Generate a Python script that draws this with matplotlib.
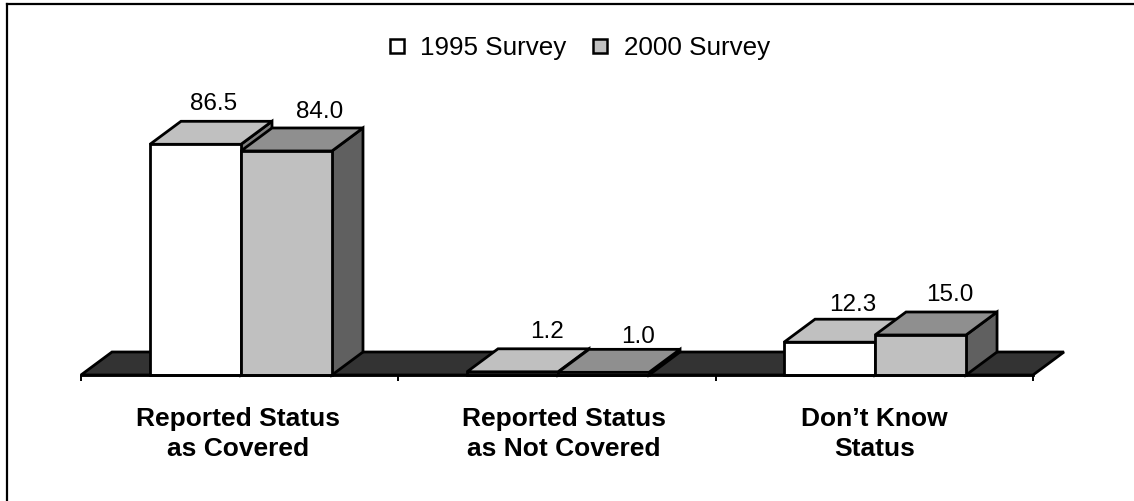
import matplotlib
matplotlib.use("Agg")
import matplotlib.pyplot as plt
from matplotlib.lines import Line2D
from matplotlib.patches import Polygon

plt.rcParams["font.family"] = ["Liberation Sans", "DejaVu Sans"]

# ------------------------------------------------
# Data
# ------------------------------------------------

categories = ["Reported Status\nas Covered", "Reported Status\nas Not Covered", "Don\u2019t Know\nStatus"]
survey_names = ["1995 Survey", "2000 Survey"]
survey_1995 = [86.5, 1.2, 12.3]
survey_2000 = [84.0, 1.0, 15.0]

# ------------------------------------------------
# Layout (pixels of the 1134x501 figure)
# ------------------------------------------------

W, H = 1134, 501
X0, CAT_W = 81, 317.33
Y0, PX_PER_UNIT = 375, 2.667

BAR_W = 91 / CAT_W
BAR_START = [0.2174, 0.2165, 0.2155]
DX = 31 / CAT_W
DY = 23 / PX_PER_UNIT

LABEL_DX = [[18, 33], [34, 35], [23, 29]]
LABEL_DY = [[40, 39], [40, 35], [37, 40]]
CAT_LABEL_DX = [-2, 7, 0]

FRONT = ["white", "#c0c0c0"]
TOP = ["#c0c0c0", "#8f8f8f"]
SIDE = ["#808080", "#606060"]
FLOOR = "#333333"
LW = 2.0

fig = plt.figure(figsize=(W / 100, H / 100), dpi=100)
ax = fig.add_axes([0, 0, 1, 1])
ax.set_xlim(-X0 / CAT_W, (W - X0) / CAT_W)
ax.set_ylim(-(H - Y0) / PX_PER_UNIT, Y0 / PX_PER_UNIT)

for side in ["top", "left", "right"]:
    ax.spines[side].set_visible(False)
ax.spines["bottom"].set_position(("data", 0))
ax.spines["bottom"].set_bounds(0, 3)
ax.spines["bottom"].set_linewidth(LW)
ax.spines["bottom"].set_zorder(5)
ax.set_yticks([])
ax.set_xticks(range(len(categories) + 1))
ax.set_xticklabels([])
ax.tick_params(axis="x", length=4, width=1.4, direction="out")

# floor
n = len(categories)
ax.add_patch(Polygon([(0, 0), (n, 0), (n + DX, DY), (DX, DY)], closed=True,
                     facecolor=FLOOR, edgecolor="black", linewidth=LW, zorder=1))

# ------------------------------------------------
# 3D looking bars
# ------------------------------------------------

for i in range(n):
    for s, values in enumerate([survey_1995, survey_2000]):
        v = values[i]
        left = i + BAR_START[i] + s * BAR_W
        right = left + BAR_W
        z = 2 + s

        ax.add_patch(Polygon([(right, 0), (right + DX, DY), (right + DX, v + DY), (right, v)],
                             closed=True, facecolor=SIDE[s], edgecolor="black", linewidth=LW, zorder=z))
        ax.add_patch(Polygon([(left, v), (right, v), (right + DX, v + DY), (left + DX, v + DY)],
                             closed=True, facecolor=TOP[s], edgecolor="black", linewidth=LW, zorder=z))
        ax.bar(left, v, BAR_W, align="edge", facecolor=FRONT[s], edgecolor="black",
               linewidth=LW, zorder=z)

        ax.annotate(f"{v:.1f}", (left + BAR_W / 2, v), xytext=(LABEL_DX[i][s], LABEL_DY[i][s]),
                    textcoords="offset pixels", ha="center", va="center", fontsize=17.5, zorder=6)

    ax.annotate(categories[i], (i + 0.5, 0), xytext=(CAT_LABEL_DX[i], -59),
                textcoords="offset pixels", ha="center", va="center", fontsize=19,
                fontweight="bold", linespacing=1.34)

# ------------------------------------------------
# Legend
# ------------------------------------------------

handles = [
    Line2D([], [], linestyle="none", marker="s", markersize=10.5, markerfacecolor=FRONT[k],
           markeredgecolor="black", markeredgewidth=1.8)
    for k in range(2)
]
ax.legend(handles, survey_names, ncol=2, loc="center", bbox_to_anchor=(578 / W, 1 - 48 / H),
          frameon=False, fontsize=18.7, handlelength=0.8, handletextpad=0.5, columnspacing=0.9)

# only the top and left frame lines show in the picture
fig.add_artist(Line2D([7 / W, 7 / W], [0, 1 - 3.5 / H], color="black", linewidth=1.6))
fig.add_artist(Line2D([7 / W, 1], [1 - 3.5 / H, 1 - 3.5 / H], color="black", linewidth=1.6))

fig.savefig("out.png", dpi=100)
